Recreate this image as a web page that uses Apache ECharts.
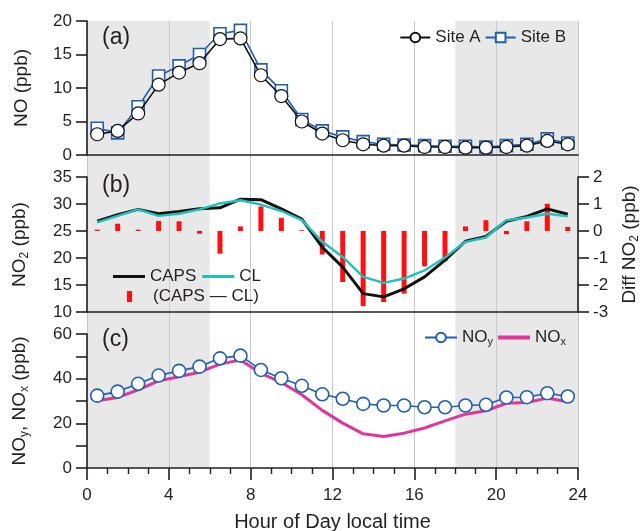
<!DOCTYPE html>
<html>
<head>
<meta charset="utf-8">
<script src="https://cdn.jsdelivr.net/npm/echarts@6/dist/echarts.min.js"></script>
<style>
  html, body { margin: 0; padding: 0; background: #fff; }
  #chart { width: 643px; height: 531px; }
</style>
</head>
<body>
<div id="chart"></div>
<script>
// hour of day (bin centres)
const hours = [0.5, 1.5, 2.5, 3.5, 4.5, 5.5, 6.5, 7.5, 8.5, 9.5, 10.5, 11.5,
  12.5, 13.5, 14.5, 15.5, 16.5, 17.5, 18.5, 19.5, 20.5, 21.5, 22.5, 23.5];

// (a) NO
const siteA = [3.1, 3.6, 6.2, 10.5, 12.3, 13.7, 17.3, 17.4, 11.9, 8.8, 5.0, 3.2,
  2.2, 1.6, 1.4, 1.4, 1.2, 1.2, 1.1, 1.1, 1.2, 1.4, 2.1, 1.6];
const siteB = [4.0, 3.3, 7.2, 11.8, 13.3, 15.0, 18.1, 18.6, 12.7, 9.6, 5.3, 3.6,
  2.7, 2.0, 1.6, 1.5, 1.4, 1.3, 1.3, 1.2, 1.4, 1.6, 2.4, 1.8];

// (b) NO2
const caps = [26.8, 28.0, 29.0, 28.2, 28.6, 29.1, 29.3, 30.9, 30.8, 29.1, 27.2, 22.0,
  18.3, 13.4, 12.8, 14.3, 16.5, 19.6, 23.1, 24.0, 26.8, 27.7, 29.1, 28.1];
const cl = [26.6, 27.8, 29.0, 27.8, 28.2, 29.0, 30.1, 30.7, 29.9, 28.7, 27.0, 23.0,
  20.2, 16.5, 15.4, 16.2, 17.7, 20.1, 23.0, 23.8, 27.0, 27.5, 28.2, 27.7];
const diff = [0.05, 0.27, 0.05, 0.37, 0.36, -0.1, -0.84, 0.17, 0.91, 0.49, 0.03, -0.87,
  -1.89, -2.78, -2.63, -2.32, -1.31, -1.12, 0.17, 0.40, -0.12, 0.36, 1.01, 0.15];

// (c) NOy, NOx
const noy = [32.4, 34.2, 37.7, 41.4, 43.5, 45.4, 49.1, 50.3, 43.9, 40.2, 36.8, 33.0,
  31.0, 28.7, 28.0, 28.0, 27.2, 27.2, 28.0, 28.3, 31.6, 31.7, 33.5, 32.0];
const nox = [30.1, 31.6, 35.0, 39.0, 40.9, 42.9, 46.5, 48.4, 42.4, 38.3, 32.8, 25.8,
  20.1, 15.3, 14.1, 15.6, 17.9, 21.1, 24.1, 25.6, 29.0, 29.3, 31.3, 29.6];

// night-time shading (hours)
const nightSpans = [[0, 6], [18, 24]];

const pairs = arr => hours.map((h, i) => [h, arr[i]]);

const ink = '#231f20';
const font = 'Liberation Sans';
const blue = '#1f5fb0';

const chart = echarts.init(document.getElementById('chart'));

const gridBox = { left: 87, width: 491, containLabel: false, outerBoundsMode: 'none' };

function xAx(gridIndex, opts) {
  return Object.assign({
    type: 'value', gridIndex: gridIndex, min: 0, max: 24, interval: 4, z: 10,
    axisLine: { show: true, onZero: false, lineStyle: { color: ink, width: 1.6 } },
    axisTick: { show: false },
    axisLabel: { show: false },
    splitLine: { show: false }
  }, opts || {});
}

function yAx(gridIndex, min, max, interval, opts) {
  return Object.assign({
    type: 'value', gridIndex: gridIndex, min: min, max: max, interval: interval, z: 10,
    nameLocation: 'middle', nameRotate: 90, nameGap: 56,
    nameTextStyle: { fontFamily: font, fontSize: 19, color: ink,
      rich: { s: { fontFamily: font, fontSize: 12, color: ink, padding: [10, 0, 0, 0] } } },
    axisLine: { show: true, onZero: false, lineStyle: { color: ink, width: 1.6 } },
    axisTick: { show: true, length: 11, lineStyle: { color: ink, width: 1.6 } },
    axisLabel: { fontFamily: font, fontSize: 17, color: ink, margin: 15 },
    splitLine: { show: false }
  }, opts || {});
}

const legendText = { fontFamily: font, fontSize: 17, color: ink };
const subRich = { s: { fontFamily: font, fontSize: 11, color: ink, padding: [9, 0, 0, 0] } };

const option = {
  animation: false,
  backgroundColor: '#fff',
  textStyle: { fontFamily: font, color: ink },
  title: [
    { text: '(a)', left: 97, top: 21, textStyle: { fontFamily: font, fontSize: 23, fontWeight: 'normal', color: ink } },
    { text: '(b)', left: 97, top: 169, textStyle: { fontFamily: font, fontSize: 23, fontWeight: 'normal', color: ink } },
    { text: '(c)', left: 97, top: 323, textStyle: { fontFamily: font, fontSize: 23, fontWeight: 'normal', color: ink } }
  ],
  legend: [
    {
      data: ['Site A', 'Site B'], right: 72, top: 24, itemWidth: 30, itemHeight: 12, itemGap: 4,
      textStyle: legendText
    },
    {
      data: [{ name: 'CAPS', icon: 'rect' }, { name: 'CL', icon: 'rect' }],
      left: 108, top: 263, itemWidth: 32, itemHeight: 3, itemGap: 6,
      textStyle: legendText
    },
    {
      data: [{ name: '(CAPS — CL)', icon: 'rect' }], left: 122, top: 283, itemWidth: 5, itemHeight: 11,
      textStyle: Object.assign({ padding: [0, 0, 0, 16] }, legendText)
    },
    {
      data: ['NOy'], right: 145, top: 324, itemWidth: 32, itemHeight: 12,
      formatter: () => 'NO{s|y}',
      textStyle: Object.assign({ rich: subRich }, legendText)
    },
    {
      data: [{ name: 'NOx', icon: 'rect' }], right: 72, top: 324, itemWidth: 32, itemHeight: 4,
      formatter: () => 'NO{s|x}',
      textStyle: Object.assign({ rich: subRich }, legendText)
    }
  ],
  grid: [
    Object.assign({ top: 21, height: 134 }, gridBox),
    Object.assign({ top: 177, height: 135 }, gridBox),
    Object.assign({ top: 334, height: 134 }, gridBox),
    Object.assign({ top: 21, height: 447 }, gridBox)
  ],
  xAxis: [
    xAx(0),
    xAx(1),
    xAx(2, {
      name: 'Hour of Day local time', nameLocation: 'middle', nameGap: 44,
      nameTextStyle: { fontFamily: font, fontSize: 20, color: ink },
      axisTick: { show: true, length: 12, lineStyle: { color: ink, width: 1.6 } },
      minorTick: { show: true, splitNumber: 4, length: 6, lineStyle: { color: ink, width: 1.4 } },
      axisLabel: { show: true, fontFamily: font, fontSize: 17, color: ink, margin: 19 }
    }),
    xAx(3, {
      show: true, z: 3,
      axisLine: { show: false }, axisLabel: { show: false },
      splitLine: { show: true, lineStyle: { color: '#c9c9c9', width: 1 } }
    })
  ],
  yAxis: [
    yAx(0, 0, 20, 5, { name: 'NO (ppb)' }),
    yAx(1, 10, 35, 5, { name: 'NO{s|2} (ppb)' }),
    yAx(1, -3, 2, 1, { position: 'right', name: 'Diff NO{s|2} (ppb)', nameGap: 41 }),
    yAx(2, 0, 60, 20, {
      name: 'NO{s|y}, NO{s|x} (ppb)',
      minorTick: { show: true, splitNumber: 2, length: 11, lineStyle: { color: ink, width: 1.6 } }
    }),
    { type: 'value', gridIndex: 3, min: 0, max: 1, show: false }
  ],
  series: [
    {
      name: 'night', type: 'line', xAxisIndex: 3, yAxisIndex: 4, data: [], silent: true,
      markArea: {
        silent: true,
        itemStyle: { color: '#e8e8e8' },
        data: nightSpans.map(s => [{ xAxis: s[0] }, { xAxis: s[1] }])
      }
    },
    {
      name: 'Site B', type: 'line', xAxisIndex: 0, yAxisIndex: 0, z: 5,
      data: pairs(siteB), symbol: 'rect', symbolSize: 12,
      lineStyle: { color: blue, width: 1.6 },
      itemStyle: { color: '#fff', borderColor: blue, borderWidth: 1.6 }
    },
    {
      name: 'Site A', type: 'line', xAxisIndex: 0, yAxisIndex: 0, z: 6,
      data: pairs(siteA), symbol: 'circle', symbolSize: 13,
      lineStyle: { color: '#111', width: 1.6 },
      itemStyle: { color: '#fff', borderColor: '#111', borderWidth: 1.2 }
    },
    {
      name: '(CAPS — CL)', type: 'bar', xAxisIndex: 1, yAxisIndex: 2, z: 4,
      data: pairs(diff), barWidth: 5,
      itemStyle: { color: '#ff1010' }
    },
    {
      name: 'CAPS', type: 'line', xAxisIndex: 1, yAxisIndex: 1, z: 5,
      data: pairs(caps), symbol: 'none',
      lineStyle: { color: '#111', width: 3 }, itemStyle: { color: '#111' }
    },
    {
      name: 'CL', type: 'line', xAxisIndex: 1, yAxisIndex: 1, z: 6,
      data: pairs(cl), symbol: 'none',
      lineStyle: { color: '#1fc0c0', width: 2.4 }, itemStyle: { color: '#1fc0c0' }
    },
    {
      name: 'NOx', type: 'line', xAxisIndex: 2, yAxisIndex: 3, z: 5,
      data: pairs(nox), symbol: 'none',
      lineStyle: { color: '#e0359b', width: 3 }, itemStyle: { color: '#e0359b' }
    },
    {
      name: 'NOy', type: 'line', xAxisIndex: 2, yAxisIndex: 3, z: 6,
      data: pairs(noy), symbol: 'circle', symbolSize: 13,
      lineStyle: { color: blue, width: 1.6 },
      itemStyle: { color: '#fff', borderColor: blue, borderWidth: 1.6 }
    }
  ]
};

chart.setOption(option);
</script>
</body>
</html>
